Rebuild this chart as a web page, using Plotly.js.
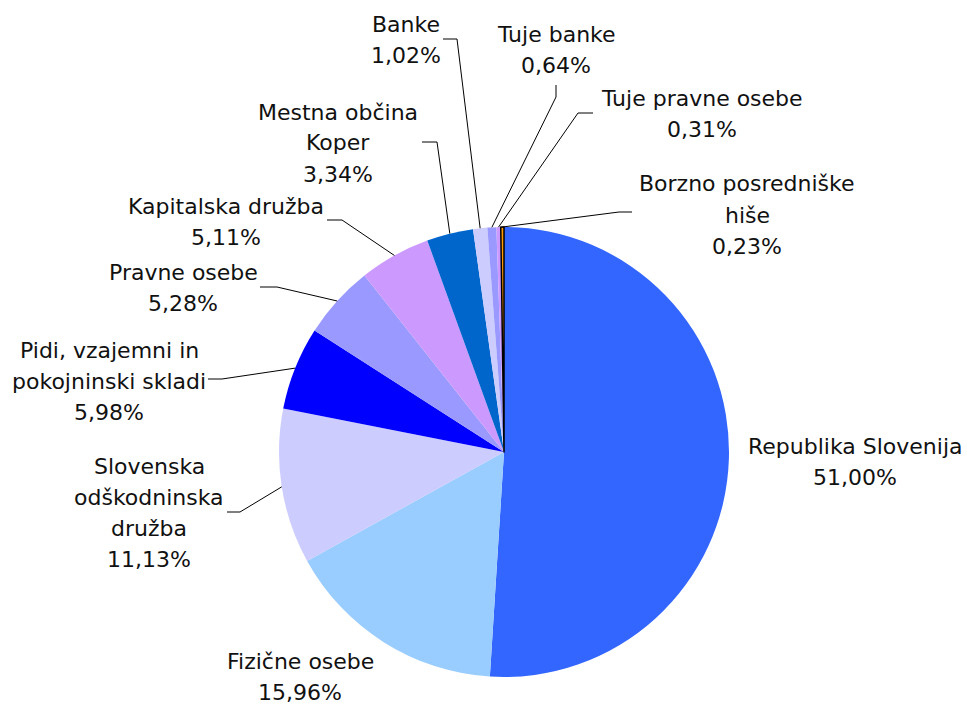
<!DOCTYPE html>
<html>
<head>
<meta charset="utf-8">
<script src="https://cdn.plot.ly/plotly-3.0.1.min.js"></script>
<style>html,body{margin:0;padding:0;background:#fff;}#chart{width:967px;height:706px;}</style>
</head>
<body>
<div id="chart"></div>
<script>
// ---- data ----
const categories = [
  "Republika Slovenija",
  "Fizične osebe",
  "Slovenska odškodninska družba",
  "Pidi, vzajemni in pokojninski skladi",
  "Pravne osebe",
  "Kapitalska družba",
  "Mestna občina Koper",
  "Banke",
  "Tuje banke",
  "Tuje pravne osebe",
  "Borzno posredniške hiše"
];
const values = [51.00, 15.96, 11.13, 5.98, 5.28, 5.11, 3.34, 1.02, 0.64, 0.31, 0.23];
const labelLines = [
  ["Republika Slovenija"],
  ["Fizične osebe"],
  ["Slovenska", "odškodninska", "družba"],
  ["Pidi, vzajemni in", "pokojninski skladi"],
  ["Pravne osebe"],
  ["Kapitalska družba"],
  ["Mestna občina", "Koper"],
  ["Banke"],
  ["Tuje banke"],
  ["Tuje pravne osebe"],
  ["Borzno posredniške", "hiše"]
];
const colors = ["#3366FF","#99CCFF","#CCCCFF","#0000FF","#9999FF","#CC99FF","#0066CC","#CCCCFF","#9999FF","#CC99FF","#FF9900"];

// ---- layout constants (pixels) ----
const W = 967, H = 706;
const CX = 504, CY = 452, R = 225;
const LINE_H = 31;
// label centers
const labelPos = [
  [855, 462], [300, 677], [149, 513], [109, 381], [183, 288], [226, 222],
  [338, 143], [406, 40], [556, 50], [702, 114], [747, 215]
];
// leader lines: [start, elbow] or null
const leaders = [
  null, null,
  [[227,512],[240,512]],
  [[208,379],[222,379]],
  [[260,287],[277,287]],
  [[327,220],[342,220]],
  [[422,142],[437,142]],
  [[443,39],[457,39]],
  [[556,85],[556,97]],
  [[593,113],[578,113]],
  [[632,212],[619,212]]
];

const px = x => x / W;
const py = y => 1 - y / H;
const fmt = v => v.toFixed(2).replace('.', ',') + '%';

const total = values.reduce((a, b) => a + b, 0);
const annotations = [];
const shapes = [];
let cum = 0;
values.forEach((v, i) => {
  const mid = (cum + v / 2) / total * 2 * Math.PI;
  cum += v;
  const ax = CX + R * Math.sin(mid), ay = CY - R * Math.cos(mid);
  const lines = labelLines[i].concat([fmt(v)]);
  const n = lines.length;
  lines.forEach((t, k) => {
    annotations.push({
      xref: 'paper', yref: 'paper',
      x: px(labelPos[i][0]), y: py(labelPos[i][1] + (k - (n - 1) / 2) * LINE_H),
      xanchor: 'center', yanchor: 'middle',
      text: t, borderpad: 0,
      showarrow: false, align: 'center',
      font: {family: 'DejaVu Sans, Verdana, sans-serif', size: 22, color: '#111'}
    });
  });
  if (leaders[i]) {
    const p = leaders[i];
    shapes.push({
      type: 'path', xref: 'paper', yref: 'paper',
      path: `M ${px(p[0][0])} ${py(p[0][1])} L ${px(p[1][0])} ${py(p[1][1])} L ${px(ax)} ${py(ay)}`,
      line: {color: '#000', width: 1}
    });
  }
});

const lineWidths = values.map((v, i) => i === values.length - 1 ? 1.5 : 0);
const lineColors = values.map((v, i) => i === values.length - 1 ? '#000' : 'rgba(0,0,0,0)');

const trace = {
  type: 'pie',
  labels: categories,
  values: values,
  sort: false,
  direction: 'clockwise',
  rotation: 0,
  textinfo: 'none',
  hoverinfo: 'none',
  marker: {colors: colors, line: {color: lineColors, width: lineWidths}},
  domain: {x: [px(CX - R), px(CX + R)], y: [py(CY + R), py(CY - R)]},
  showlegend: false
};

Plotly.newPlot('chart', [trace], {
  width: W, height: H,
  margin: {l: 0, r: 0, t: 0, b: 0},
  paper_bgcolor: '#fff',
  showlegend: false,
  annotations: annotations,
  shapes: shapes
}, {displayModeBar: false, staticPlot: true});
</script>
</body>
</html>
